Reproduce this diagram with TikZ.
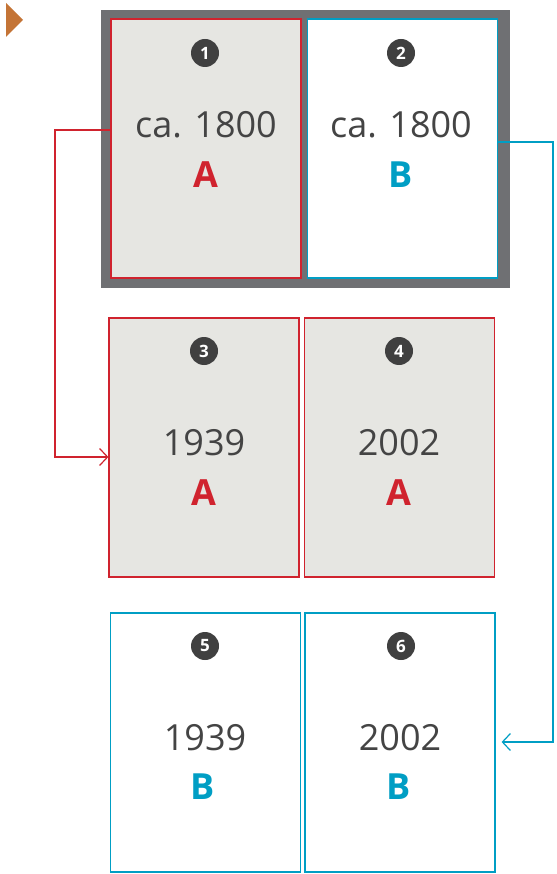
\documentclass[tikz,border=0pt]{standalone}
\usepackage{fontspec}
\setmainfont{Open Sans}
\usepackage{tikz}
\usetikzlibrary{arrows.meta, calc}
\definecolor{edgered}{RGB}{208, 35, 46}
\definecolor{edgeblue}{RGB}{0, 158, 196}
\definecolor{paperfill}{RGB}{230, 230, 226}
\definecolor{framegray}{RGB}{111, 112, 115}
\definecolor{badgegray}{RGB}{64, 64, 64}
\definecolor{yeargray}{RGB}{68, 68, 68}
\definecolor{markorange}{RGB}{196, 116, 54}

\begin{document}
\begin{tikzpicture}[x=1pt, y=-1pt,
    page/.style={draw, line width=1.2pt, minimum width=190, minimum height=259, inner sep=0pt},
    pageA/.style={page, draw=edgered, fill=paperfill},
    pageB/.style={page, draw=edgeblue, fill=white},
    badge/.style={circle, fill=badgegray, text=white, minimum size=28, inner sep=0pt, font=\fontsize{17}{17}\selectfont\bfseries},
    year/.style={anchor=base, text=yeargray, font=\fontsize{36}{36}\selectfont},
    letterA/.style={anchor=base, text=edgered, font=\fontsize{36}{36}\selectfont\bfseries},
    letterB/.style={anchor=base, text=edgeblue, font=\fontsize{36}{36}\selectfont\bfseries},
    link/.style={line width=1.2pt, -{Straight Barb[length=8pt, width=17pt, line width=1.2pt]}}]
        \useasboundingbox (0,0) rectangle (556,874);

        % Marker
        \fill[markorange] (6,3) -- (23,20) -- (6,37) -- cycle;

        % Frame round the first row
        \fill[framegray] (101,10) rectangle (510,288);

        % Pages
        \node[pageA] (p1) at (206,148.5) {};
        \node[pageB] (p2) at (402.5,148.5) {};
        \node[pageA] (p3) at (204,447.5) {};
        \node[pageA] (p4) at (399.5,447.5) {};
        \node[pageB] (p5) at (205.5,742.5) {};
        \node[pageB] (p6) at (400,742.5) {};

        % Badges
        \node[badge] (n1) at (205,53) {1};
        \node[badge] (n2) at (401,53) {2};
        \node[badge] (n3) at (204,351) {3};
        \node[badge] (n4) at (399,351) {4};
        \node[badge] (n5) at (205,646) {5};
        \node[badge] (n6) at (401,646) {6};

        % Years
        \node[year] (y1) at (206,138) {ca. 1800};
        \node[year] (y2) at (401,138) {ca. 1800};
        \node[year] (y3) at (204,455) {1939};
        \node[year] (y4) at (399,455) {2002};
        \node[year] (y5) at (205,750) {1939};
        \node[year] (y6) at (400,750) {2002};

        % Letters
        \node[letterA] (l1) at (206,188) {A};
        \node[letterB] (l2) at (401,188) {B};
        \node[letterA] (l3) at (204,505) {A};
        \node[letterA] (l4) at (399,505) {A};
        \node[letterB] (l5) at (203,799) {B};
        \node[letterB] (l6) at (399,799) {B};

        % Links
        \coordinate (ra) at (55,130);
        \coordinate (rb) at (55,457);
        \draw[link, edgered] (p1.west |- ra) -- (ra) -- (rb) -- (p3.west |- rb);
        \coordinate (ba) at (553,142);
        \coordinate (bb) at (553,742);
        \draw[link, edgeblue, shorten >=6pt] (p2.east |- ba) -- (ba) -- (bb) -- (p6.east |- bb);
      \end{tikzpicture}
\end{document}
